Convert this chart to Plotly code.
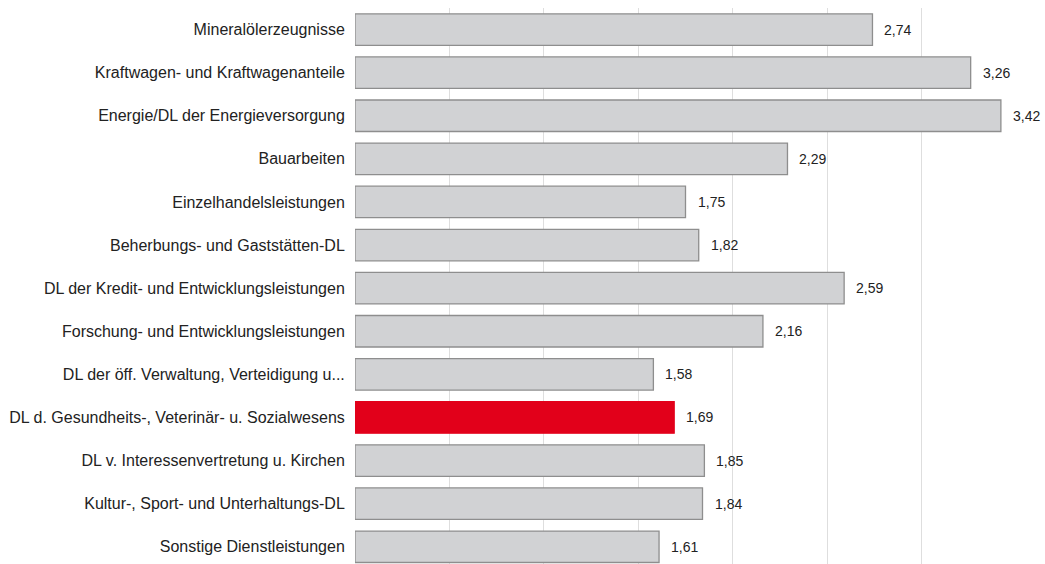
import plotly.graph_objects as go

categories = [
    "Mineralölerzeugnisse",
    "Kraftwagen- und Kraftwagenanteile",
    "Energie/DL der Energieversorgung",
    "Bauarbeiten",
    "Einzelhandelsleistungen",
    "Beherbungs- und Gaststätten-DL",
    "DL der Kredit- und Entwicklungsleistungen",
    "Forschung- und Entwicklungsleistungen",
    "DL der öff. Verwaltung, Verteidigung u...",
    "DL d. Gesundheits-, Veterinär- u. Sozialwesens",
    "DL v. Interessenvertretung u. Kirchen",
    "Kultur-, Sport- und Unterhaltungs-DL",
    "Sonstige Dienstleistungen",
]
values = [2.74, 3.26, 3.42, 2.29, 1.75, 1.82, 2.59, 2.16, 1.58, 1.69, 1.85, 1.84, 1.61]
highlight = "DL d. Gesundheits-, Veterinär- u. Sozialwesens"

GRAY = "#d1d2d4"
RED = "#e2001a"
fills = [RED if c == highlight else GRAY for c in categories]
lines = [RED if c == highlight else "#8e8e8e" for c in categories]

fig = go.Figure(go.Bar(
    x=values, y=categories, orientation="h",
    marker=dict(color=fills, line=dict(color=lines, width=1.3)),
    width=0.73,
    hoverinfo="skip",
))

for c, v in zip(categories, values):
    fig.add_annotation(
        x=v, y=c, text=f"{v:.2f}".replace(".", ","),
        xanchor="left", yanchor="middle", showarrow=False, xshift=10,
        font=dict(size=14, color="#222222", family="Liberation Sans, Arial, sans-serif"),
    )

fig.update_layout(
    width=1045, height=564,
    margin=dict(l=355, r=29, t=8, b=0),
    paper_bgcolor="white", plot_bgcolor="white",
    showlegend=False,
    font=dict(family="Liberation Sans, Arial, sans-serif", size=16, color="#222222"),
    xaxis=dict(range=[0, 3.5], dtick=0.5, showticklabels=False, showgrid=True,
               gridcolor="#dedede", gridwidth=1, zeroline=False, showline=False),
    yaxis=dict(range=[12.4, -0.5], ticks="outside", ticklen=6,
               tickcolor="rgba(0,0,0,0)", showgrid=False, showline=False,
               tickfont=dict(size=16, color="#222222")),
)

fig.write_html("out.html")
